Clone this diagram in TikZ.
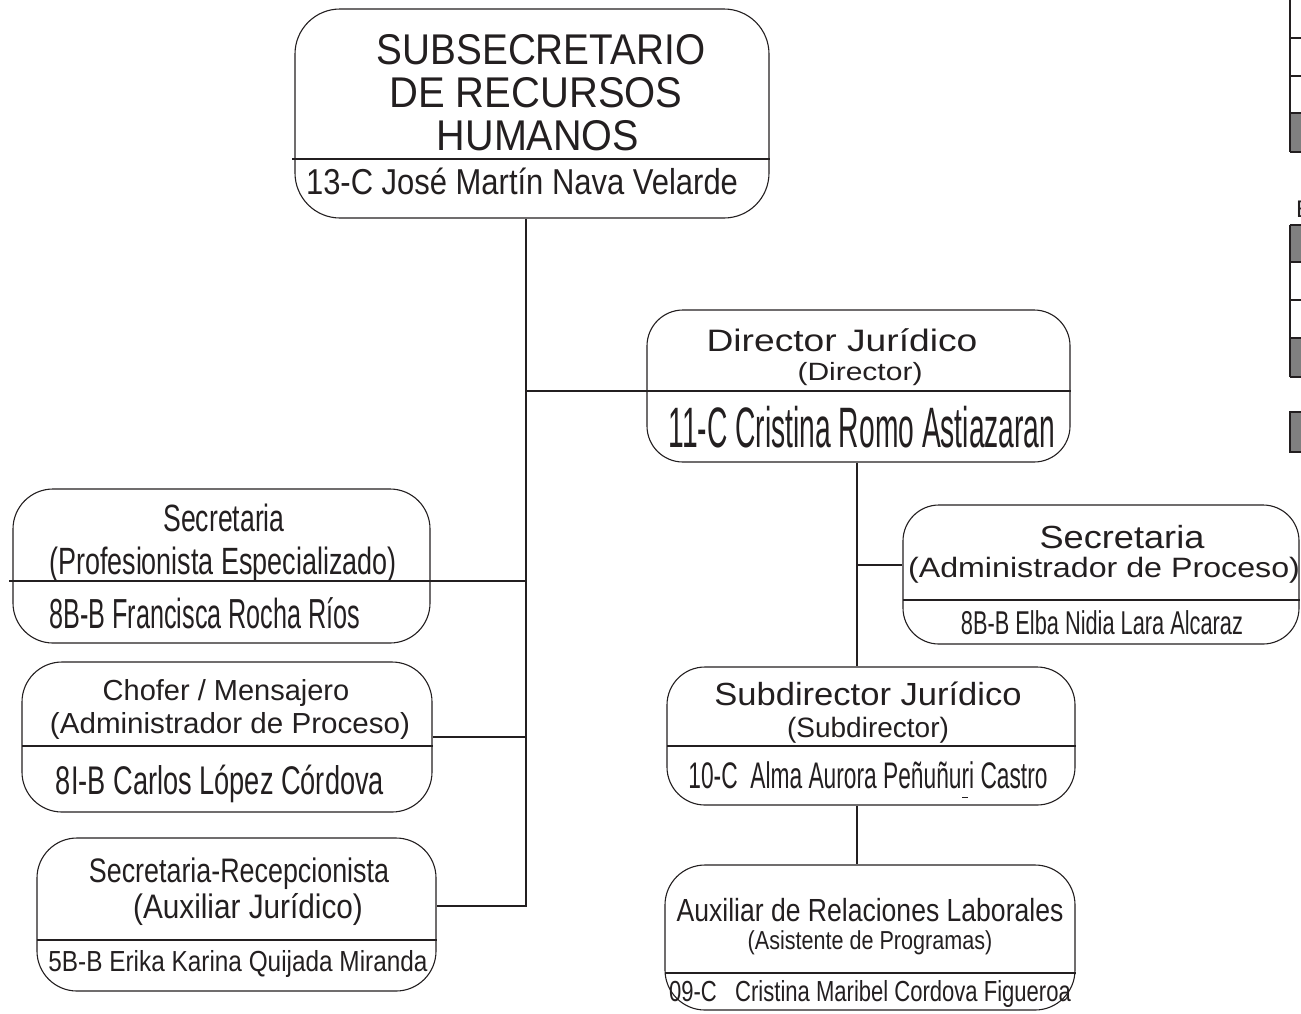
\documentclass[tikz,border=0pt]{standalone}
\usepackage{graphicx}
\usepackage{fontspec}
\setmainfont{Liberation Sans}
\definecolor{ink}{HTML}{231F20}
\definecolor{tabgray}{HTML}{808080}
\newcommand\TX[3]{\fontsize{#1pt}{#1pt}\selectfont\scalebox{#2}[1]{#3}}
\tikzset{
  orgbox/.style 2 args={draw=ink, line width=1.1pt, rounded corners=40pt, inner sep=0pt,
     minimum width=#1pt, minimum height=#2pt},
  lbl/.style={anchor=base, inner sep=0pt, text=ink},
  conn/.style={draw=ink, line width=1.2pt},
  tabline/.style={draw=ink, line width=2.6pt},
}
\begin{document}
\begin{tikzpicture}[x=1pt,y=-1pt]
\useasboundingbox (0,0) rectangle (1301,1013);

% ---------- boxes ----------
\node[orgbox={474}{209}, rounded corners=45pt] (top) at (532,113.5) {};
\node[orgbox={423}{152}, rounded corners=36pt] (dir) at (858.5,386) {};
\node[orgbox={396}{139}, rounded corners=36pt] (secR) at (1101,574.5) {};
\node[orgbox={408}{138}, rounded corners=38pt] (sub) at (871,736) {};
\node[orgbox={410}{145}, rounded corners=40pt] (aux) at (870,937.5) {};
\node[orgbox={417}{154}, rounded corners=40pt] (secL) at (221.5,566) {};
\node[orgbox={410}{150}, rounded corners=40pt] (chof) at (227,737) {};
\node[orgbox={399}{153}, rounded corners=40pt] (recep) at (236.5,914.5) {};

% ---------- dividers ----------
\coordinate (dTop) at (292,159);
\draw[conn, line width=1.1pt] (dTop) -- (dTop -| top.east);
\coordinate (dSecR) at (903,600);
\draw[conn, line width=1.1pt] (dSecR) -- (dSecR -| secR.east);
\coordinate (dSub) at (667,746);
\draw[conn, line width=1.1pt] (dSub) -- (dSub -| sub.east);
\coordinate (dAux) at (665,973);
\draw[conn, line width=1.1pt] (dAux) -- (dAux -| aux.east);
\coordinate (dChof) at (22,746);
\draw[conn, line width=1.1pt] (dChof) -- (dChof -| chof.east);
\coordinate (dRecep) at (37,940);
\draw[conn, line width=1.1pt] (dRecep) -- (dRecep -| recep.east);

% ---------- connectors ----------
\coordinate (jA) at (526,906);
\coordinate (jD) at (526,391);
\coordinate (jS) at (526,581);
\coordinate (sL) at (9,581);
\coordinate (jC) at (526,737);
\coordinate (jR) at (857,565);
\draw[conn] (top.south -| jA) -- (jA) -- (jA -| recep.east);
\draw[conn] (jD) -- (jD -| dir.east);
\draw[conn] (sL) -- (jS);
\draw[conn] (jC -| chof.east) -- (jC);
\draw[conn] (dir.south -| jR) -- (sub.north -| jR);
\draw[conn] (jR) -- (jR -| secR.west);
\draw[conn] (sub.south -| jR) -- (aux.north -| jR);

% ---------- texts ----------
\node[lbl] (t1) at (541,64) {\TX{43}{0.90}{SUBSECRETARIO}};
\node[lbl] (t2) at (536,107) {\TX{43}{0.93}{DE RECURSOS}};
\node[lbl] (t3) at (538,150) {\TX{43}{0.92}{HUMANOS}};
\node[lbl] (t4) at (522,194) {\TX{36}{0.86}{13-C José Martín Nava Velarde}};

\node[lbl] (d1) at (842,351) {\TX{31}{1.20}{Director Jurídico}};
\node[lbl] (d2) at (860,380) {\TX{25}{1.20}{(Director)}};
\node[lbl] (d3) at (862,447) {\TX{57}{0.495}{11-C Cristina Romo Astiazaran}};

\node[lbl] (r1) at (1122,548) {\TX{32}{1.13}{Secretaria}};
\node[lbl] (r2) at (1104,577) {\TX{28}{1.15}{(Administrador de Proceso)}};
\node[lbl] (r3) at (1102,634) {\TX{33}{0.66}{8B-B Elba Nidia Lara Alcaraz}};

\node[lbl] (s1) at (868,705) {\TX{32}{1.08}{Subdirector Jurídico}};
\node[lbl] (s2) at (868,737) {\TX{28}{1.0}{(Subdirector)}};
\node[lbl] (s3) at (868,788) {\TX{37}{0.615}{10-C\ \ Alma Aurora Peñuñuri Castro}};
\draw[ink, line width=1pt] (962,797) -- (968,797);

\node[lbl] (a1) at (870,921) {\TX{32}{0.83}{Auxiliar de Relaciones Laborales}};
\node[lbl] (a2) at (870,949) {\TX{26}{0.83}{(Asistente de Programas)}};
\node[lbl] (a3) at (870,1001) {\TX{29}{0.76}{09-C\ \ \ Cristina Maribel Cordova Figueroa}};

\node[lbl] (l1) at (224,531) {\TX{38}{0.70}{Secretaria}};
\node[lbl] (l2) at (223,574) {\TX{38}{0.71}{(Profesionista Especializado)}};
\node[lbl] (l3) at (205,628) {\TX{42}{0.60}{8B-B Francisca Rocha Ríos}};

\node[lbl] (c1) at (226,700) {\TX{29}{1.0}{Chofer / Mensajero}};
\node[lbl] (c2) at (230,733) {\TX{29}{1.02}{(Administrador de Proceso)}};
\node[lbl] (c3) at (220,794) {\TX{40}{0.68}{8I-B Carlos López Córdova}};

\node[lbl] (e1) at (239,882) {\TX{34}{0.79}{Secretaria-Recepcionista}};
\node[lbl] (e2) at (248,918) {\TX{34}{0.875}{(Auxiliar Jurídico)}};
\node[lbl] (e3) at (238,971) {\TX{29}{0.84}{5B-B Erika Karina Quijada Miranda}};

% ---------- partial tables at the right edge ----------
\fill[tabgray] (1290,113) rectangle (1303,152);
\draw[tabline] (1290,-3) -- (1290,152);
\foreach \yy in {38,76,113,152} \draw[tabline] (1290,\yy) -- (1303,\yy);

\node[anchor=base west, inner sep=0pt, text=ink] (E) at (1296,217) {\TX{24}{1}{E}};

\fill[tabgray] (1290,225) rectangle (1303,262);
\fill[tabgray] (1290,338) rectangle (1303,377);
\draw[tabline] (1290,225) -- (1290,377);
\foreach \yy in {225,262,300,338,377} \draw[tabline] (1290,\yy) -- (1303,\yy);

\fill[tabgray] (1290,412) rectangle (1303,452);
\draw[tabline] (1303,412) -- (1290,412) -- (1290,452) -- (1303,452);
\end{tikzpicture}
\end{document}
